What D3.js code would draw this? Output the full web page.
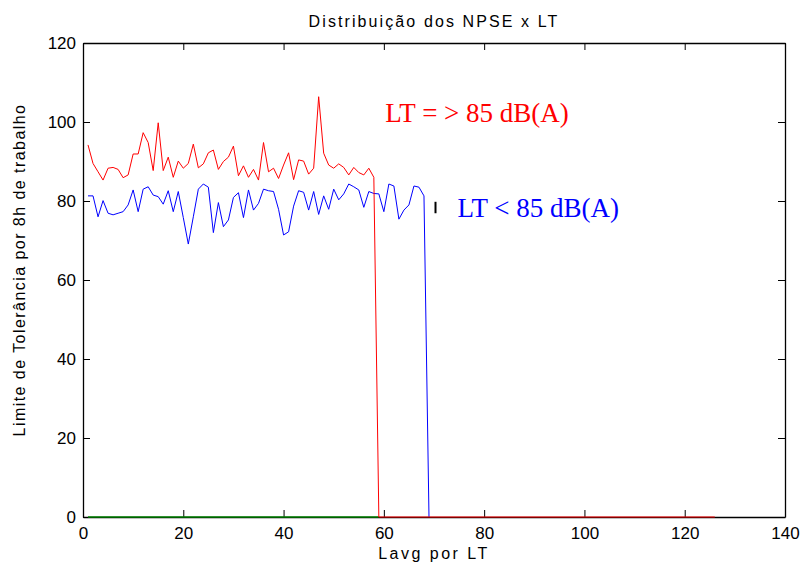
<!DOCTYPE html>
<html>
<head>
<meta charset="utf-8">
<script src="https://cdn.jsdelivr.net/npm/d3@7"></script>
<style>
  body { margin: 0; background: #fff; }
  text { font-family: "Liberation Sans", Arial, sans-serif; }
</style>
</head>
<body>
<div id="chart"></div>
<script>
// values, one per integer x starting at x = 1
var redValues = [94.2, 89.5, 87.4, 85.3, 88.3, 88.5, 88.0, 85.9, 86.6, 91.9,
  91.9, 97.3, 94.8, 87.7, 99.8, 87.7, 91.1, 86.0, 90.1, 88.3,
  89.5, 94.4, 88.4, 89.4, 92.2, 92.9, 88.0, 90.0, 91.1, 93.9,
  86.4, 88.9, 86.0, 88.0, 85.3, 94.8, 87.4, 88.3, 85.7, 89.1,
  92.2, 85.4, 90.4, 90.1, 86.8, 88.3, 106.4, 92.1, 89.1, 88.3,
  89.4, 88.5, 86.6, 88.5, 87.2, 86.6, 88.3, 86.0];
var redTail = [[59, 0], [126, 0]];

var blueValues = [81.3, 81.3, 76.0, 80.1, 76.9, 76.5, 76.9, 77.3, 79.0, 82.8,
  77.3, 83.0, 83.6, 81.5, 81.1, 79.2, 82.6, 77.3, 82.4, 75.8,
  69.1, 76.0, 83.0, 84.3, 83.5, 72.0, 79.6, 73.5, 75.2, 80.9,
  82.1, 75.8, 82.8, 77.7, 79.4, 83.0, 82.6, 82.4, 77.9, 71.4,
  72.2, 78.7, 82.6, 82.2, 77.7, 82.4, 76.6, 81.3, 77.9, 83.0,
  80.3, 81.8, 84.3, 83.6, 82.8, 78.4, 82.4, 81.9, 81.8, 77.3,
  84.3, 83.8, 75.4, 77.7, 79.0, 83.8, 83.5, 81.3];
var blueTail = [[69, 0]];

var greenLine = [[1, 0], [59, 0]];
var blackMark = [[70.3, 76.9], [70.3, 79.8]];

var xTicks = [0, 20, 40, 60, 80, 100, 120, 140];
var yTicks = [0, 20, 40, 60, 80, 100, 120];

var svgWidth = 803;
var svgHeight = 570;
var margin = { top: 43, right: 18, bottom: 53, left: 83 };
var width = svgWidth - margin.left - margin.right;
var height = svgHeight - margin.top - margin.bottom;

var svg = d3.select("#chart")
  .append("svg")
  .attr("width", svgWidth)
  .attr("height", svgHeight);

var chartGroup = svg.append("g")
  .attr("transform", `translate(${margin.left}, ${margin.top})`);

var xScale = d3.scaleLinear().domain([0, 140]).range([0, width]);
var yScale = d3.scaleLinear().domain([0, 120]).range([height, 0]);

var line = d3.line()
  .x(d => xScale(d[0]))
  .y(d => yScale(d[1]));

var redPts = redValues.map((v, i) => [i + 1, v]).concat(redTail);
var bluePts = blueValues.map((v, i) => [i + 1, v]).concat(blueTail);

// box + inward ticks, matlab style
var tickLen = 7;
chartGroup.append("g")
  .attr("transform", `translate(0, ${height})`)
  .call(d3.axisBottom(xScale).tickValues(xTicks).tickSizeInner(-tickLen).tickSizeOuter(0).tickPadding(10));
chartGroup.append("g")
  .call(d3.axisTop(xScale).tickValues(xTicks).tickSizeInner(-tickLen).tickSizeOuter(0).tickFormat(""));
chartGroup.append("g")
  .call(d3.axisLeft(yScale).tickValues(yTicks).tickSizeInner(-tickLen).tickSizeOuter(0).tickPadding(7));
chartGroup.append("g")
  .attr("transform", `translate(${width}, 0)`)
  .call(d3.axisRight(yScale).tickValues(yTicks).tickSizeInner(-tickLen).tickSizeOuter(0).tickFormat(""));

chartGroup.selectAll(".domain").attr("stroke", "#000").attr("stroke-width", 1.3);
chartGroup.selectAll(".tick line").attr("stroke", "#000");
chartGroup.selectAll(".tick text")
  .attr("font-size", 17)
  .attr("fill", "#000")
  .style("font-family", "Liberation Sans, Arial, sans-serif");

// series
chartGroup.append("path").datum(greenLine)
  .attr("d", line).attr("fill", "none").attr("stroke", "#008000").attr("stroke-width", 1.5);
chartGroup.append("path").datum(bluePts)
  .attr("d", line).attr("fill", "none").attr("stroke", "#0000ff").attr("stroke-width", 1);
chartGroup.append("path").datum(redPts)
  .attr("d", line).attr("fill", "none").attr("stroke", "#ff0000").attr("stroke-width", 1);
chartGroup.append("path").datum(blackMark)
  .attr("d", line).attr("fill", "none").attr("stroke", "#000").attr("stroke-width", 2);

// annotations
chartGroup.append("text")
  .attr("x", xScale(60.3)).attr("y", yScale(100))
  .attr("fill", "#ff0000")
  .attr("font-size", 27)
  .style("font-family", "Liberation Serif, Times New Roman, serif")
  .text("LT = > 85 dB(A)");
chartGroup.append("text")
  .attr("x", xScale(74.7)).attr("y", yScale(76))
  .attr("fill", "#0000ff")
  .attr("font-size", 27)
  .style("font-family", "Liberation Serif, Times New Roman, serif")
  .text("LT < 85 dB(A)");

// title and axis labels
svg.append("text")
  .attr("x", 434).attr("y", 27)
  .attr("text-anchor", "middle")
  .attr("font-size", 16)
  .attr("letter-spacing", 2.1)
  .text("Distribuição dos NPSE x LT");

svg.append("text")
  .attr("x", margin.left + width / 2).attr("y", 559)
  .attr("text-anchor", "middle")
  .attr("font-size", 16)
  .attr("letter-spacing", 2.5)
  .text("Lavg por LT");

svg.append("text")
  .attr("transform", `translate(25, 270) rotate(-90)`)
  .attr("text-anchor", "middle")
  .attr("font-size", 16)
  .attr("letter-spacing", 1.45)
  .text("Limite de Tolerância por 8h de trabalho");
</script>
</body>
</html>
